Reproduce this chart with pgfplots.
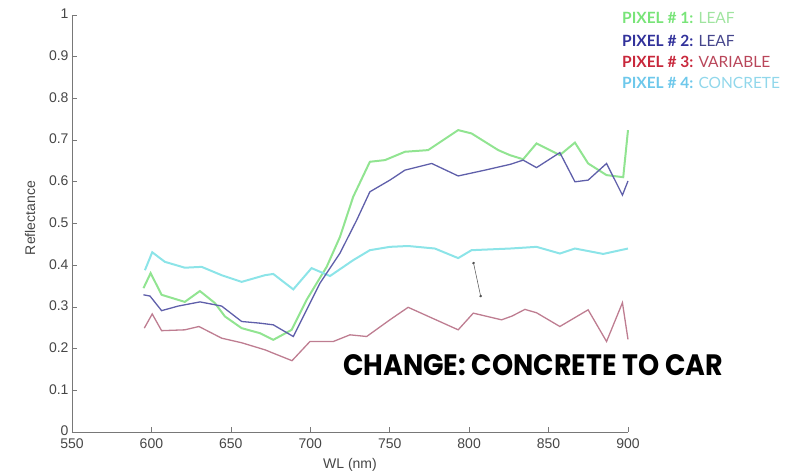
\documentclass[border=0pt]{standalone}
\usepackage{pgfplots}
\pgfplotsset{compat=1.18}
\usepackage{fontspec}
\setmainfont{Liberation Sans}
\newfontfamily\legfont{Lato}
\newfontfamily\heavyfont{Poppins}
\usetikzlibrary{arrows.meta}
\definecolor{cgreen}{RGB}{145,228,145}
\definecolor{cblue}{RGB}{95,95,170}
\definecolor{cred}{RGB}{190,125,145}
\definecolor{ccyan}{RGB}{140,228,232}
\definecolor{tgreenb}{RGB}{120,228,120}
\definecolor{tgreen}{RGB}{160,228,160}
\definecolor{tblueb}{RGB}{50,50,155}
\definecolor{tblue}{RGB}{70,70,140}
\definecolor{tredb}{RGB}{200,40,60}
\definecolor{tred}{RGB}{185,70,90}
\definecolor{tcyanb}{RGB}{110,200,235}
\definecolor{tcyan}{RGB}{145,215,235}
\definecolor{axgray}{RGB}{120,120,120}
\definecolor{txgray}{RGB}{70,70,70}
\begin{document}
\begin{tikzpicture}
\path (0,0) rectangle (785pt,474pt);
\begin{axis}[
  at={(72pt,42pt)}, anchor=south west,
  scale only axis, width=556pt, height=417pt,
  xmin=550, xmax=900, ymin=0, ymax=1,
  axis x line*=bottom, axis y line*=left,
  axis line style={axgray, line width=0.6pt},
  tick style={axgray, line width=0.6pt},
  tick align=inside, major tick length=5pt,
  xtick={550,600,...,900},
  ytick={0,0.1,...,1},
  yticklabels={0,0.1,0.2,0.3,0.4,0.5,0.6,0.7,0.8,0.9,1},
  /pgf/number format/assume math mode=true,
  ticklabel style={font=\fontsize{14}{16}\selectfont, text=txgray},
  xticklabel style={yshift=-3.5pt},
  yticklabel style={yshift=1pt},
  label style={font=\fontsize{14}{16}\selectfont, text=txgray},
  xlabel={WL (nm)}, ylabel={Reflectance},
  xlabel style={at={(axis description cs:0.5,-0.079)}, anchor=center},
  ylabel style={at={(axis description cs:-0.0755,0.513)}, anchor=center},
  clip=false,
]
\addplot[cgreen, line width=2pt] coordinates {
(595,0.345)(599.5,0.381)(606.4,0.329)(621,0.312)(630.5,0.338)(640,0.309)(646.3,0.277)(656.8,0.249)(668.3,0.237)(676.7,0.221)(688.3,0.245)(697.7,0.317)(710.3,0.396)(718.7,0.468)(727,0.564)(737.5,0.648)(747,0.652)(759.6,0.672)(774.2,0.676)(793.1,0.724)(801.5,0.716)(818.3,0.676)(825.6,0.664)(834,0.654)(842.4,0.692)(850.8,0.676)(857.1,0.664)(866.6,0.694)(874.9,0.644)(886.5,0.616)(897,0.611)(900,0.724)};
\addplot[ccyan, line width=2pt] coordinates {
(595.9,0.388)(600.5,0.431)(608.5,0.408)(621,0.394)(631.6,0.396)(644.2,0.376)(656.8,0.360)(671.5,0.376)(676.7,0.379)(689.3,0.342)(700.8,0.393)(712.4,0.374)(727,0.412)(737.5,0.436)(750.1,0.444)(761.6,0.446)(778.4,0.440)(793.1,0.417)(801.5,0.436)(826,0.440)(842.4,0.444)(857.1,0.428)(866.6,0.440)(884.4,0.427)(900,0.440)};
\addplot[cred, line width=1.3pt] coordinates {
(595.5,0.249)(600.5,0.283)(606.4,0.243)(621,0.245)(629.9,0.253)(644.2,0.225)(656.8,0.214)(671.5,0.197)(688.5,0.171)(699.8,0.217)(714.5,0.217)(725,0.233)(735.5,0.229)(750.1,0.269)(761.6,0.299)(793.1,0.245)(802.6,0.285)(820.4,0.269)(827,0.278)(835.1,0.294)(842.4,0.286)(857.1,0.253)(874.9,0.293)(886.5,0.217)(896.5,0.310)(900,0.222)};
\addplot[cblue, line width=1.3pt] coordinates {
(595,0.329)(599.1,0.326)(606.4,0.291)(616.9,0.302)(630.6,0.312)(644.2,0.302)(656.8,0.265)(668.3,0.261)(676.7,0.257)(689.3,0.229)(697.7,0.293)(706.1,0.357)(718.7,0.429)(729.2,0.508)(737.5,0.576)(750.1,0.604)(759.6,0.628)(776.4,0.644)(793.1,0.614)(810,0.628)(826,0.642)(834,0.652)(842.4,0.634)(857.1,0.670)(866.6,0.600)(874.9,0.604)(886.5,0.644)(896.5,0.568)(900,0.602)};
\draw[black!70, line width=0.5pt, {Circle[length=2.5pt]}-{Circle[length=2.5pt]}] (axis cs:802.6,0.408) -- (axis cs:807.4,0.323);
\end{axis}
\node[anchor=west, inner sep=0pt] at (343pt,109pt) {\resizebox{380pt}{21pt}{\heavyfont\bfseries CHANGE: CONCRETE TO CAR}};
\begin{scope}[every node/.style={anchor=west, inner sep=0pt, font=\legfont\fontsize{15.5}{17}\selectfont}]
\node at (622pt,456pt) {\textcolor{tgreenb}{\bfseries PIXEL \# 1:} \textcolor{tgreen}{LEAF}};
\node at (622pt,433pt) {\textcolor{tblueb}{\bfseries PIXEL \# 2:} \textcolor{tblue}{LEAF}};
\node at (622pt,412pt) {\textcolor{tredb}{\bfseries PIXEL \# 3:} \textcolor{tred}{VARIABLE}};
\node at (622pt,391pt) {\textcolor{tcyanb}{\bfseries PIXEL \# 4:} \textcolor{tcyan}{CONCRETE}};
\end{scope}
\end{tikzpicture}
\end{document}
